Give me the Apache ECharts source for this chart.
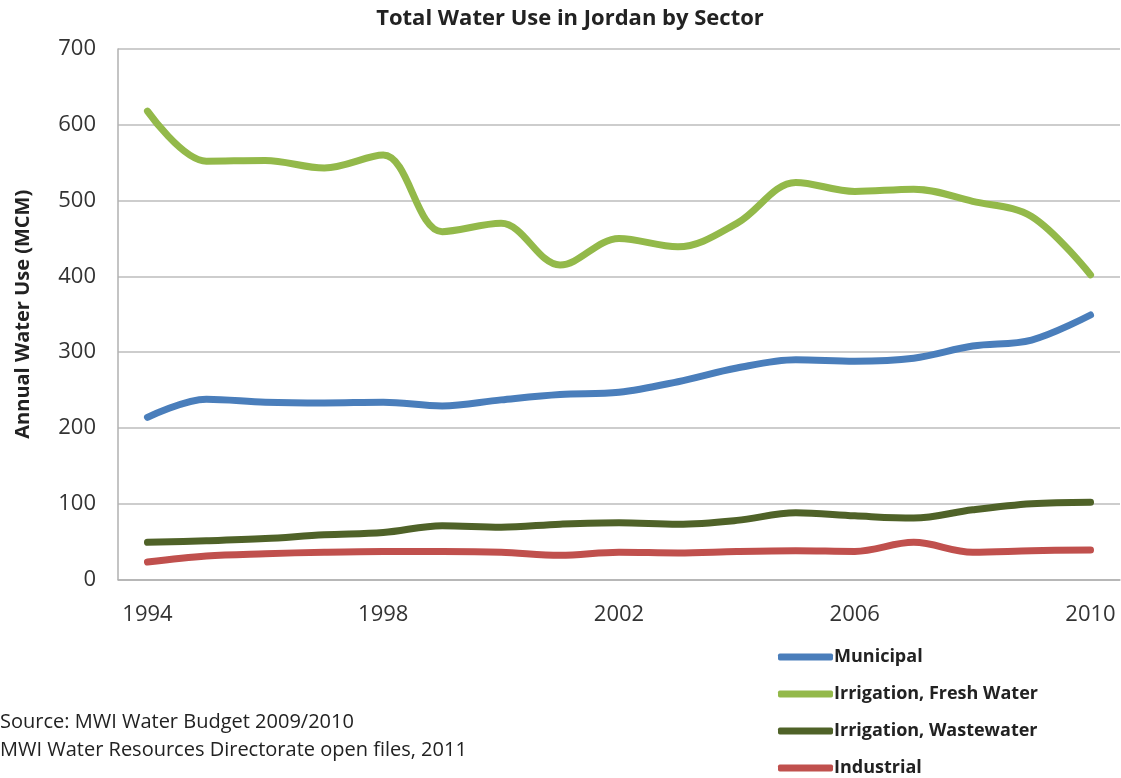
<!DOCTYPE html>
<html><head><meta charset="utf-8">
<script src="https://cdn.jsdelivr.net/npm/echarts@6/dist/echarts.min.js"></script>
<style>html,body{margin:0;padding:0;background:#fff}#c{width:1121px;height:778px}</style>
</head><body><div id="c"></div>
<script>
const years = ['1994','1995','1996','1997','1998','1999','2000','2001','2002','2003','2004','2005','2006','2007','2008','2009','2010'];
const municipal = [214,238,234,233,234,229,237,244,247,261,279,290,288,292,308,316,349];
const irrigationFresh = [618,552,553,543,560,459,470,415,450,439,470,524,512,515,499,479,402];
const irrigationWaste = [49,51,54,59,62,71,69,73,75,73,78,88,84,81,92,100,102];
const industrial = [23,31,34,36,37,37,36,32,36,35,37,38,37,49,36,38,39];
const yTicks = [0,100,200,300,400,500,600,700];
const seriesNames = ['Municipal','Irrigation, Fresh Water','Irrigation, Wastewater','Industrial'];
const colors = ['#4a7ebb','#93b94a','#4f6228','#c0504d'];
const title = 'Total Water Use in Jordan by Sector';
const yName = 'Annual Water Use (MCM)';
const sourceLines = ['Source: MWI Water Budget 2009/2010','MWI Water Resources Directorate open files, 2011'];

const font = '"Open Sans", "Noto Sans", sans-serif';
const chart = echarts.init(document.getElementById('c'), null, {renderer:'canvas'});
const dataSets = [municipal, irrigationFresh, irrigationWaste, industrial];
chart.setOption({
  animation:false,
  backgroundColor:'#fff',
  title:{text:title,left:565,textAlign:'center',top:3,
    textStyle:{fontFamily:font,fontSize:22,fontWeight:'bold',color:'#222'}},
  grid:{left:118,right:1,top:49,bottom:198.5,containLabel:false},
  legend:{orient:'vertical',left:778,top:648,height:140,padding:0,itemWidth:55,itemHeight:7,itemGap:19,
    icon:'roundRect',data:seriesNames,
    textStyle:{fontFamily:font,fontSize:18,fontWeight:'bold',color:'#222',lineHeight:18,padding:[0,0,0,-4]}},
  xAxis:{type:'category',data:years,boundaryGap:true,
    axisLine:{lineStyle:{color:'#b0b0b0',width:1.5}},
    axisTick:{interval:0,length:8,lineStyle:{color:'#b0b0b0',width:1.5}},
    axisLabel:{interval:3,margin:24,fontFamily:font,fontSize:22,color:'#333'},
    splitLine:{show:false}},
  yAxis:{type:'value',min:0,max:700,interval:100,
    name:yName,nameLocation:'middle',nameGap:85,nameRotate:90,
    nameTextStyle:{fontFamily:font,fontSize:20,fontWeight:'bold',color:'#222'},
    axisLine:{show:true,lineStyle:{color:'#b0b0b0',width:1.5}},
    axisTick:{show:false},
    axisLabel:{margin:22,fontFamily:font,fontSize:22,color:'#333',
      formatter:v=>yTicks.includes(v)?String(v):''},
    splitLine:{lineStyle:{color:'#bdbdbd',width:1.5}}},
  graphic:[
    {type:'text',left:0,top:712,style:{text:sourceLines[0],font:'20px '+font,fill:'#222'}},
    {type:'text',left:0,top:740,style:{text:sourceLines[1],font:'20px '+font,fill:'#222'}}
  ],
  series:seriesNames.map((n,i)=>({
    name:n,type:'line',data:dataSets[i],smooth:0.35,symbol:'none',
    itemStyle:{color:colors[i]},
    lineStyle:{color:colors[i],width:7,cap:'round',join:'round'},
    z:4-i
  }))
});
</script></body></html>
